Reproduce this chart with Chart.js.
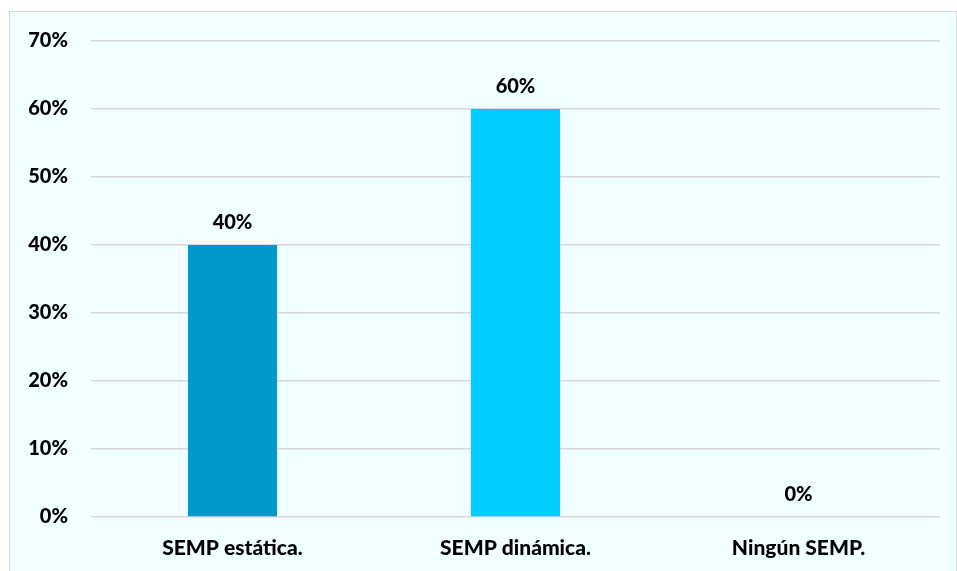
<!DOCTYPE html>
<html>
<head>
<meta charset="utf-8">
<script src="https://cdn.jsdelivr.net/npm/chart.js@4/dist/chart.umd.min.js"></script>
<style>
  body { margin: 0; background: #ffffff; }
  #box {
    position: absolute; left: 9px; top: 11px;
    width: 946px; height: 570px;
    background: #f0ffff; border: 1px solid #d9d9d9;
  }
</style>
</head>
<body>
<div id="box"><canvas id="chart" width="946" height="559"></canvas></div>
<script>
const categories = ["SEMP estática.", "SEMP dinámica.", "Ningún SEMP."];
const values = [40, 60, 0];
const barColors = ["#0099cc", "#00ccff", "#00ccff"];
const yTicks = [0, 10, 20, 30, 40, 50, 60, 70];

const fontFamily = "Lato, 'Open Sans', sans-serif";
const labelFont = "900 20px " + fontFamily;

// draws the % value over each bar
const valueLabels = {
  id: "valueLabels",
  afterDatasetsDraw(chart) {
    let ctx = chart.ctx;
    let meta = chart.getDatasetMeta(0);
    ctx.save();
    ctx.font = labelFont;
    ctx.fillStyle = "#000000";
    ctx.textAlign = "center";
    ctx.textBaseline = "alphabetic";
    meta.data.forEach((bar, i) => {
      ctx.fillText(values[i] + "%", bar.x, bar.y - 16);
    });
    ctx.restore();
  }
};

let ctx = document.getElementById("chart").getContext("2d");
let chart = new Chart(ctx, {
  type: "bar",
  data: {
    labels: categories,
    datasets: [{
      data: values,
      backgroundColor: barColors,
      barPercentage: 0.315,
      categoryPercentage: 1
    }]
  },
  options: {
    responsive: false,
    animation: false,
    layout: { padding: { top: 29, right: 16, left: 0, bottom: 0 } },
    plugins: { legend: { display: false }, tooltip: { enabled: false } },
    scales: {
      x: {
        grid: { display: false, drawTicks: false },
        border: { display: false },
        ticks: {
          color: "#000000",
          padding: 19,
          font: { family: fontFamily, size: 21, weight: 900 }
        },
        afterFit: s => { s.height = 54; }
      },
      y: {
        min: 0,
        max: 70,
        afterBuildTicks: s => { s.ticks = yTicks.map(v => ({ value: v })); },
        grid: { color: "#d9d9d9", lineWidth: 1.5, drawTicks: false },
        border: { display: false },
        ticks: {
          color: "#000000",
          padding: 23,
          font: { family: fontFamily, size: 20, weight: 900 },
          callback: v => v + "%"
        },
        afterFit: s => {
          s.width = 81;
          s.paddingTop = 0;
          s.paddingBottom = 0;
        }
      }
    }
  },
  plugins: [valueLabels]
});
</script>
</body>
</html>
